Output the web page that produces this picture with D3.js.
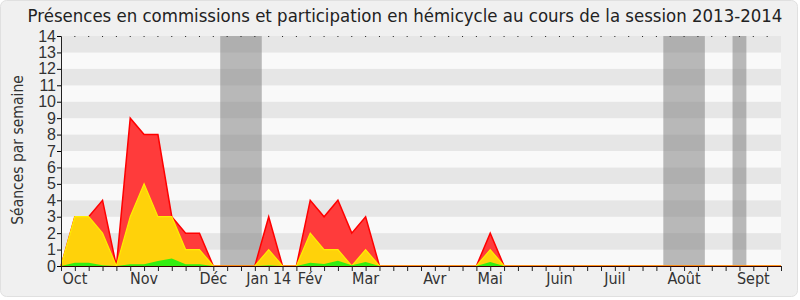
<!DOCTYPE html>
<html>
<head>
<meta charset="utf-8">
<script src="https://cdn.jsdelivr.net/npm/d3@7"></script>
<style>
  body { margin: 0; background: #fff; }
  svg { display: block; font-family: "DejaVu Sans Condensed", "DejaVu Sans", sans-serif; font-stretch: condensed; }
</style>
</head>
<body>
<svg id="chart" width="800" height="300"></svg>
<script>
// weekly values, week 0 = start of October 2013
let presences =   [0,3,3,4,0,9,8,8,3,2,2,0,0,0,0,3,0,0,4,3,4,2,3,0,0,0,0,0,0,0,0,2,0,0,0,0,0,0,0,0,0,0,0,0,0,0,0,0,0,0,0,0,0];
let commissions = [0,3,3,2,0,3,5,3,3,1,1,0,0,0,0,1,0,0,2,1,1,0,1,0,0,0,0,0,0,0,0,1,0,0,0,0,0,0,0,0,0,0,0,0,0,0,0,0,0,0,0,0,0];
let hemicycle =   [0,0.2,0.2,0.05,0,0.1,0.1,0.3,0.45,0.1,0.1,0,0,0,0,0.05,0,0,0.2,0.12,0.32,0.05,0.25,0,0,0,0,0,0,0,0,0.25,0,0,0,0,0,0,0,0,0,0,0,0,0,0,0,0,0,0,0,0,0];

let months = ["Oct", "Nov", "Déc", "Jan 14", "Fév", "Mar", "Avr", "Mai", "Juin", "Juil", "Août", "Sept"];
let monthWeeks = [1, 6, 11, 15, 18, 22, 27, 31, 36, 40, 45, 50];
let vacances = [[11.5, 14.5], [43.5, 46.5], [48.5, 49.5]];
let yTicks = d3.range(0, 15);

let margin = { left: 61, right: 19, top: 36, bottom: 34 };
let width = 800, height = 300;

let svg = d3.select("#chart");

svg.append("rect")
    .attr("x", 0.5).attr("y", 0.5)
    .attr("width", width - 3).attr("height", height - 4)
    .attr("rx", 6)
    .attr("fill", "#f0f0f0")
    .attr("stroke", "#e0e0e0");

let xScale = d3.scaleLinear()
    .domain([0, presences.length - 1])
    .range([margin.left, width - margin.right]);

let yScale = d3.scaleLinear()
    .domain([0, 14])
    .range([height - margin.bottom, margin.top]);

// background stripes
svg.append("g").selectAll("rect")
    .data(d3.range(0, 14))
    .join("rect")
    .attr("x", margin.left)
    .attr("width", xScale.range()[1] - margin.left)
    .attr("y", d => yScale(d + 1))
    .attr("height", d => yScale(d) - yScale(d + 1))
    .attr("fill", d => d % 2 == 1 ? "#e6e6e6" : "#f9f9f9");

// holidays
svg.append("g").selectAll("rect")
    .data(vacances)
    .join("rect")
    .attr("x", d => xScale(d[0]))
    .attr("width", d => xScale(d[1]) - xScale(d[0]))
    .attr("y", yScale(14))
    .attr("height", yScale(0) - yScale(14))
    .attr("fill", "rgba(125,125,125,0.52)");

let area = function (values) {
    return d3.area()
        .x((d, i) => xScale(i))
        .y0(yScale(0))
        .y1(d => yScale(d))(values);
}
let line = function (values) {
    return d3.line()
        .x((d, i) => xScale(i))
        .y(d => yScale(d))(values);
}

let body = svg.append("g");
body.append("path").attr("d", area(presences)).attr("fill", "#ff3b3b");
body.append("path").attr("d", line(presences)).attr("fill", "none").attr("stroke", "#ff0000").attr("stroke-width", 1.5);
body.append("path").attr("d", area(commissions)).attr("fill", "#ffd20a");
body.append("path").attr("d", line(commissions)).attr("fill", "none").attr("stroke", "#ffee00").attr("stroke-width", 1.2);
body.append("path").attr("d", area(hemicycle)).attr("fill", "#33ee11");

// axes
let xAxis = svg.append("g")
    .attr("transform", `translate(0,${yScale(0)})`)
    .call(d3.axisBottom(xScale).tickValues(d3.range(0, 53)).tickSize(5).tickFormat(""));
xAxis.select(".domain").attr("stroke", "#300");
xAxis.selectAll(".tick line").attr("stroke", "#222");

svg.append("g").selectAll("line")
    .data(d3.range(1, 52))
    .join("line")
    .attr("x1", d => xScale(d)).attr("x2", d => xScale(d))
    .attr("y1", yScale(14)).attr("y2", yScale(14) + 1)
    .attr("stroke", "#222");

svg.append("g").selectAll("text")
    .data(months)
    .join("text")
    .attr("x", (d, i) => xScale(monthWeeks[i]))
    .attr("y", 284)
    .attr("text-anchor", "middle")
    .attr("font-size", 16)
    .attr("fill", "#333")
    .text(d => d);

let yAxis = svg.append("g")
    .attr("transform", `translate(${margin.left},0)`)
    .call(d3.axisLeft(yScale).tickValues(yTicks).tickSize(4).tickFormat(d => d));
yAxis.select(".domain").attr("stroke", "#222");
yAxis.selectAll(".tick text").attr("font-size", 16).attr("fill", "#333")
    .attr("font-family", null).attr("x", -5);

svg.append("text")
    .attr("transform", "translate(23,150) rotate(-90)")
    .attr("text-anchor", "middle")
    .attr("font-size", 15.5)
    .attr("fill", "#333")
    .text("Séances par semaine");

svg.append("text")
    .attr("x", 405)
    .attr("y", 22)
    .attr("text-anchor", "middle")
    .attr("font-size", 18.45)
    .attr("fill", "#222")
    .text("Présences en commissions et participation en hémicycle au cours de la session 2013-2014");
</script>
</body>
</html>
